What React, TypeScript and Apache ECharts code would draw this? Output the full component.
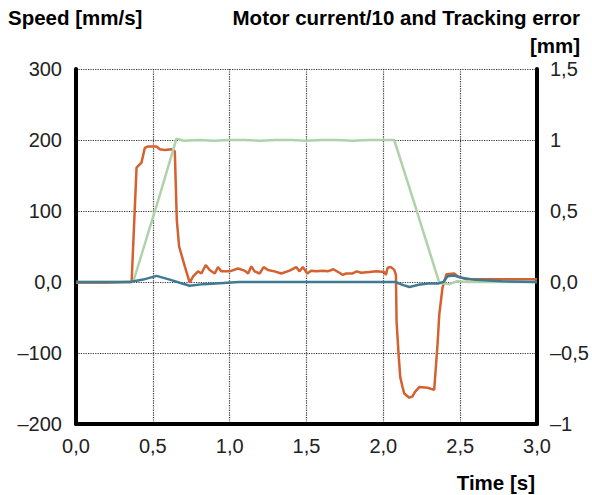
import React, { useEffect, useRef } from "react";
import * as echarts from "echarts";

// Speed (left axis, mm/s)
const speedPoints: [number, number][] = [
  [0, 0], [0.1, 0], [0.2, 0], [0.3, 0], [0.372, 0], [0.45, 55], [0.55, 126],
  [0.654, 202], [0.7, 199], [0.8, 200], [0.9, 199], [1.0, 200], [1.1, 200],
  [1.2, 199], [1.3, 200], [1.4, 200], [1.5, 199], [1.6, 200], [1.7, 200],
  [1.8, 199], [1.9, 200], [2.0, 200], [2.071, 200], [2.2, 112], [2.364, -1],
  [2.39, -2], [2.43, -3], [2.48, 1], [2.55, 0], [2.7, 0], [3.0, 0],
];

// Motor current / 10 (right axis)
const currentPoints: [number, number][] = [
  [0, -0.005], [0.2, -0.005], [0.33, 0], [0.362, 0], [0.394, 0.805], [0.426, 0.84],
  [0.448, 0.945], [0.47, 0.955], [0.524, 0.955], [0.545, 0.935], [0.578, 0.93],
  [0.621, 0.935], [0.643, 0.92], [0.656, 0.435], [0.671, 0.25], [0.708, 0.11],
  [0.74, -0.005], [0.762, 0.04], [0.794, 0.075], [0.816, 0.06], [0.844, 0.12],
  [0.87, 0.085], [0.903, 0.06], [0.924, 0.105], [0.946, 0.075], [1.0, 0.075],
  [1.054, 0.095], [1.097, 0.08], [1.12, 0.06], [1.141, 0.11], [1.162, 0.075],
  [1.195, 0.06], [1.221, 0.105], [1.249, 0.085], [1.292, 0.075], [1.336, 0.06],
  [1.39, 0.08], [1.433, 0.105], [1.455, 0.075], [1.476, 0.105], [1.505, 0.06],
  [1.53, 0.08], [1.563, 0.075], [1.606, 0.08], [1.638, 0.075], [1.675, 0.09],
  [1.714, 0.065], [1.736, 0.05], [1.758, 0.06], [1.8, 0.06], [1.827, 0.075],
  [1.855, 0.065], [1.909, 0.07], [1.953, 0.075], [2.006, 0.07], [2.017, 0.05],
  [2.028, 0.1], [2.05, 0.105], [2.071, 0.085], [2.082, 0.05], [2.086, -0.275],
  [2.099, -0.505], [2.11, -0.67], [2.125, -0.74], [2.136, -0.785], [2.169, -0.815],
  [2.19, -0.805], [2.205, -0.775], [2.234, -0.74], [2.288, -0.745], [2.331, -0.76],
  [2.353, -0.435], [2.364, -0.23], [2.385, -0.04], [2.411, 0.055], [2.461, 0.06],
  [2.483, 0.04], [2.537, 0.02], [3.0, 0.02],
];

// Tracking error (right axis, mm)
const errorPoints: [number, number][] = [
  [0, 0], [0.35, 0], [0.437, 0.017], [0.524, 0.043], [0.61, 0.017], [0.675, -0.005],
  [0.74, -0.026], [0.827, -0.015], [0.935, -0.008], [1.06, 0], [2.0, 0], [2.08, 0],
  [2.125, -0.02], [2.17, -0.035], [2.23, -0.02], [2.29, -0.01], [2.36, -0.01],
  [2.39, 0.0], [2.418, 0.04], [2.46, 0.045], [2.51, 0.03], [2.6, 0.015],
  [2.77, 0.005], [3.0, 0],
];

const xTickLabels: Record<string, string> = {
  "0": "0,0", "0.5": "0,5", "1": "1,0", "1.5": "1,5", "2": "2,0", "2.5": "2,5", "3": "3,0",
};
const leftTickLabels: Record<string, string> = {
  "-200": "\u2013200", "-100": "\u2013100", "0": "0,0", "100": "100", "200": "200", "300": "300",
};
const rightTickLabels: Record<string, string> = {
  "-1": "\u20131", "-0.5": "\u20130,5", "0": "0,0", "0.5": "0,5", "1": "1", "1.5": "1,5",
};

const FONT = "'Liberation Sans', Arial, sans-serif";

export default function App() {
  const ref = useRef<HTMLDivElement>(null);
  useEffect(() => {
    document.body.style.margin = "0";
    if (!ref.current) return;
    const chart = echarts.init(ref.current, undefined, { renderer: "svg" });
    const axisLine = { show: true, onZero: false, lineStyle: { color: "#000", width: 4 } };
    const labelStyle = { color: "#222", fontSize: 20, fontFamily: FONT };
    const titleFont = `bold 20.5px ${FONT}`;
    chart.setOption({
      animation: false,
      backgroundColor: "#fff",
      grid: { left: 76, right: 55, top: 69, bottom: 71, containLabel: false },
      xAxis: {
        type: "value", min: 0, max: 3, interval: 0.5,
        axisLine, axisTick: { show: false },
        axisLabel: { ...labelStyle, margin: 12, formatter: (v: number) => xTickLabels[String(v)] ?? "" },
        splitLine: { show: true, lineStyle: { type: "dotted", color: "#333", width: 1.2 } },
      },
      yAxis: [
        {
          type: "value", min: -200, max: 300, interval: 100, position: "left",
          axisLine, axisTick: { show: false },
          axisLabel: { ...labelStyle, margin: 14, formatter: (v: number) => leftTickLabels[String(v)] ?? "" },
          splitLine: { show: true, lineStyle: { type: "dotted", color: "#333", width: 1.2 } },
        },
        {
          type: "value", min: -1, max: 1.5, interval: 0.5, position: "right",
          axisLine, axisTick: { show: false },
          axisLabel: { ...labelStyle, margin: 13, formatter: (v: number) => rightTickLabels[String(v)] ?? "" },
          splitLine: { show: false },
        },
      ],
      graphic: [
        { type: "text", x: 8, y: 17.5, style: { text: "Speed [mm/s]", font: titleFont, fill: "#000", align: "left", verticalAlign: "middle" } },
        { type: "text", x: 580, y: 17.5, style: { text: "Motor current/10 and Tracking error", font: titleFont, fill: "#000", align: "right", verticalAlign: "middle" } },
        { type: "text", x: 580, y: 45.5, style: { text: "[mm]", font: titleFont, fill: "#000", align: "right", verticalAlign: "middle" } },
        { type: "text", x: 535, y: 482.5, style: { text: "Time [s]", font: titleFont, fill: "#000", align: "right", verticalAlign: "middle" } },
      ],
      series: [
        {
          name: "Motor current/10", type: "line", yAxisIndex: 1, data: currentPoints,
          showSymbol: false, lineStyle: { color: "#d4612f", width: 2.5 }, z: 2,
        },
        {
          name: "Speed", type: "line", yAxisIndex: 0, data: speedPoints,
          showSymbol: false, lineStyle: { color: "#aed3ab", width: 2.5 }, z: 3,
        },
        {
          name: "Tracking error", type: "line", yAxisIndex: 1, data: errorPoints,
          showSymbol: false, lineStyle: { color: "#3f7a93", width: 2.5 }, z: 4,
        },
      ],
    });
    return () => chart.dispose();
  }, []);
  return <div ref={ref} style={{ width: 592, height: 495 }} />;
}
